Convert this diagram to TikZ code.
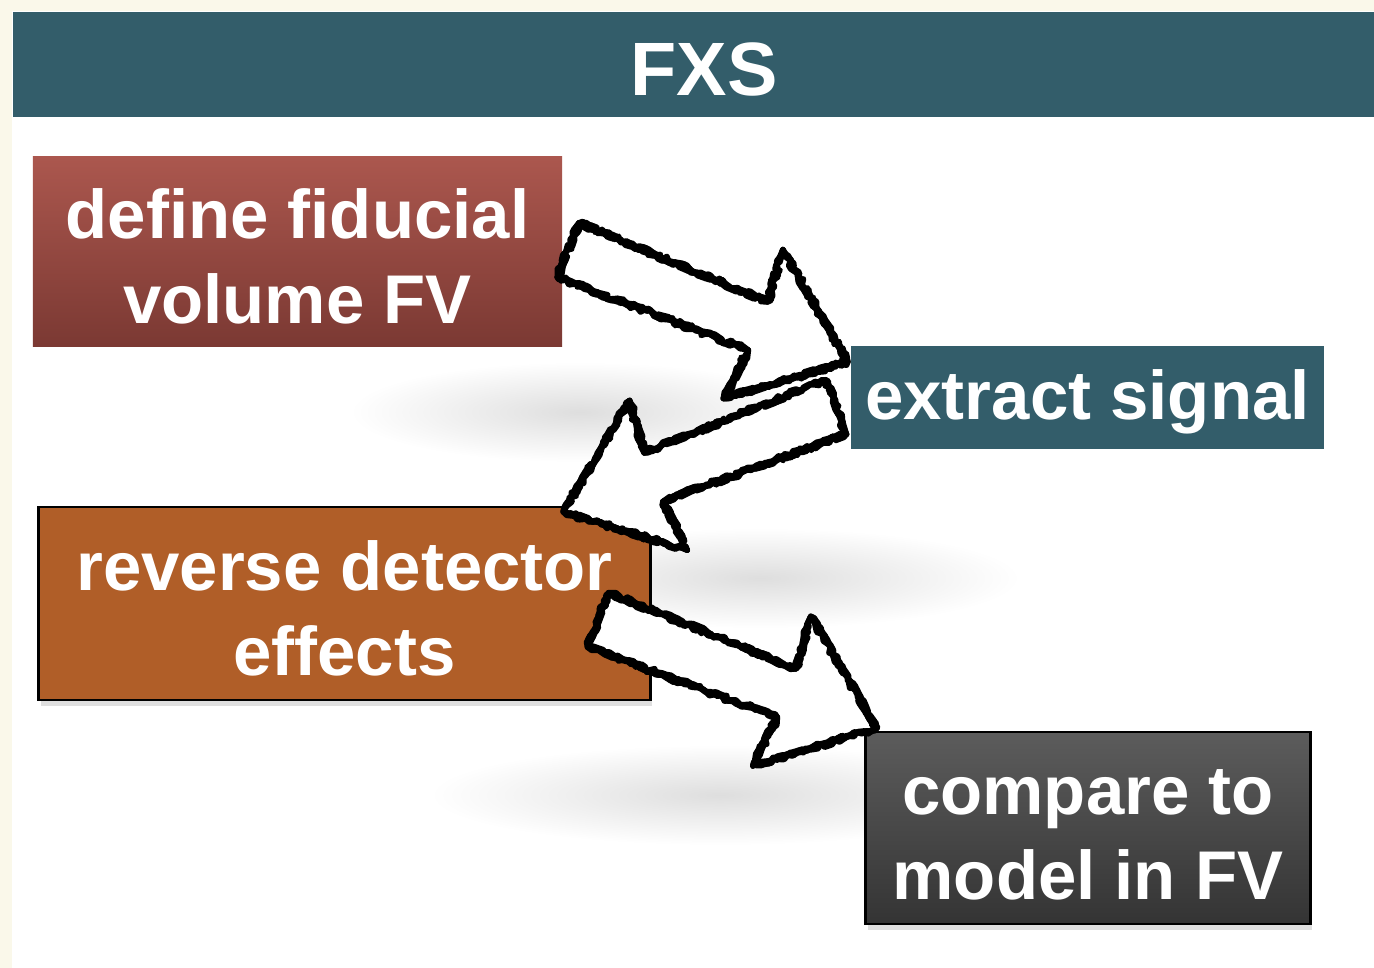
\documentclass[tikz,border=0pt]{standalone}
\usepackage{fontspec}
\setmainfont{Liberation Sans}
\usetikzlibrary{calc,shadows,decorations.pathmorphing}

\definecolor{pagecream}{RGB}{250,248,234}
\definecolor{hdrteal}{RGB}{51,93,106}
\definecolor{fvtop}{RGB}{171,87,78}
\definecolor{fvbot}{RGB}{123,57,51}
\definecolor{detorange}{RGB}{176,94,40}
\definecolor{cmptop}{RGB}{92,92,92}
\definecolor{cmpbot}{RGB}{52,52,52}

\newcommand{\boxfont}{\fontsize{19.6}{24.1}\selectfont\bfseries}
\newcommand{\upstrut}{\rule{0pt}{16.8pt}}

\tikzset{
  box/.style={inner sep=0pt,align=center,text=white,font=\boxfont},
  hdrbar/.style={fill=hdrteal,inner sep=0pt,minimum width=13.61cm,minimum height=1.05cm},
  title/.style={text=white,inner sep=0pt,font=\fontsize{21.5}{26}\selectfont\bfseries},
  boxshadow/.style={drop shadow={opacity=0.25,shadow xshift=0.6pt,shadow yshift=-1.6pt}},
  sketchline/.style={draw=black,line width=1.6pt,line join=round,
    decorate,decoration={random steps,segment length=1.5pt,amplitude=0.9pt}},
  softshadow/.style={inner color=black!13,outer color=white}
}

% block arrow drawn by hand, from tail #1 to tip #2
\newcommand{\sketcharrow}[2]{%
  \pgfpointdiff{\pgfpointanchor{#1}{center}}{\pgfpointanchor{#2}{center}}%
  \pgfgetlastxy{\arrdx}{\arrdy}%
  \pgfmathsetmacro{\arrang}{atan2(\arrdy,\arrdx)}%
  \pgfmathsetmacro{\arrlen}{veclen(\arrdx,\arrdy)}%
  \pgfmathsetmacro{\arrnotch}{\arrlen-27.5}%
  \pgfmathsetmacro{\arrbarb}{\arrlen-29}%
  \begin{scope}[shift={(#1)},rotate=\arrang]
    \fill[white] (0pt,8.3pt) -- (\arrnotch pt,7.4pt) -- (\arrbarb pt,22.8pt) -- (\arrlen pt,0pt)
      -- (\arrbarb pt,-22.8pt) -- (\arrnotch pt,-7.4pt) -- (0pt,-8.3pt) -- cycle;
    \foreach \k in {1,2,3,4}
      \draw[sketchline] (0pt,8.3pt) -- (\arrnotch pt,7.4pt) -- (\arrbarb pt,22.8pt) -- (\arrlen pt,0pt)
        -- (\arrbarb pt,-22.8pt) -- (\arrnotch pt,-7.4pt) -- (0pt,-8.3pt) -- cycle;
  \end{scope}}

\begin{document}
\begin{tikzpicture}[x=0.01cm,y=-0.01cm]
  \useasboundingbox (0,0) rectangle (1374,968);
  \fill[pagecream] (0,0) rectangle (1374,968);
  \fill[white] (12,11) rectangle (1374,968);

  % header
  \node[hdrbar] (hdr) at (693.5,64.5) {};
  \node[title] (ttl) at (704,69.5) {FXS};

  % soft shadows under the arrows
  \shade[softshadow] (580,412) ellipse [x radius=2.3cm,y radius=0.5cm];
  \shade[softshadow] (760,578) ellipse [x radius=2.6cm,y radius=0.5cm];
  \shade[softshadow] (720,795) ellipse [x radius=2.9cm,y radius=0.5cm];

  % steps
  \node[box,top color=fvtop,bottom color=fvbot,minimum width=5.29cm,minimum height=1.89cm]
    (fv) at (297.5,251.5) {\upstrut define fiducial\\volume FV};
  \node[box,fill=hdrteal,minimum width=4.73cm,minimum height=1.03cm]
    (signal) at (1087.5,397.5) {\upstrut extract signal};
  \node[box,boxshadow,fill=detorange,draw=black,line width=0.8pt,minimum width=6.11cm,minimum height=1.93cm]
    (detector) at (344.5,603.5) {\upstrut reverse detector\\effects};
  \node[box,boxshadow,top color=cmptop,bottom color=cmpbot,draw=black,line width=0.8pt,minimum width=4.44cm,minimum height=1.92cm]
    (compare) at (1088,828) {\upstrut compare to\\model in FV};

  % arrow ends
  \coordinate (a1s) at (568,250);
  \coordinate (a1e) at (848,362);
  \coordinate (a2s) at (836,407);
  \coordinate (a2e) at (563,512);
  \coordinate (a3s) at (598,620);
  \coordinate (a3e) at (877,728);

  \sketcharrow{a1s}{a1e}
  \sketcharrow{a2s}{a2e}
  \sketcharrow{a3s}{a3e}
\end{tikzpicture}
\end{document}
